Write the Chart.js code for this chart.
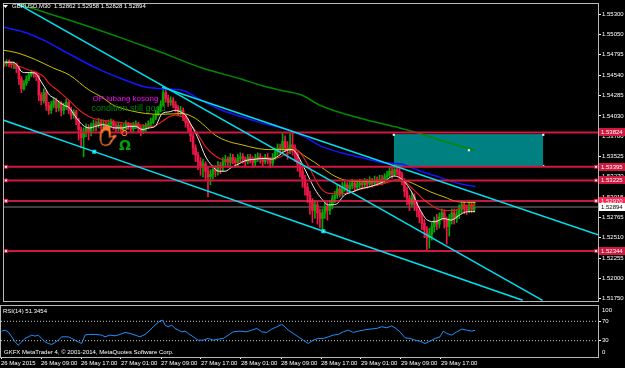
<!DOCTYPE html>
<html>
<head>
<meta charset="utf-8">
<script src="https://cdn.jsdelivr.net/npm/chart.js"></script>
<style>
  html, body { margin: 0; padding: 0; background: #000; }
  #wrap { position: relative; width: 625px; height: 368px; background: #000; overflow: hidden; }
  canvas { position: absolute; left: 0; }
  #main { top: 0; }
  #rsi { top: 305px; }
</style>
</head>
<body>
<div id="wrap">
  <canvas id="main" width="625" height="305"></canvas>
  <canvas id="rsi" width="625" height="63"></canvas>
</div>
<script>
// GBPUSD M30, 26 - 29 May 2015 (x = bar number)
const timeLabels = ['26 May 2015', '26 May 09:00', '26 May 17:00', '27 May 01:00', '27 May 09:00', '27 May 17:00',
    '28 May 01:00', '28 May 09:00', '28 May 17:00', '29 May 01:00', '29 May 09:00', '29 May 17:00'];
const timeTickBars = [0, 16, 32, 48, 64, 80, 96, 112, 128, 144, 160, 176];
const priceTicks = [1.55300, 1.55050, 1.54795, 1.54540, 1.54285, 1.54030, 1.53780, 1.53525,
    1.53270, 1.53015, 1.52765, 1.52510, 1.52255, 1.52000, 1.51750];

const opens = [1.5469,1.5468,1.5470,1.5469,1.5467,1.5468,1.5462,1.5449,1.5437,1.5444,
1.5449,1.5454,1.5457,1.5456,1.5452,1.5429,1.5422,1.5432,1.5416,1.5410,
1.5417,1.5422,1.5413,1.5419,1.5410,1.5415,1.5420,1.5410,1.5404,1.5408,
1.5398,1.5386,1.5376,1.5383,1.5388,1.5383,1.5391,1.5393,1.5391,1.5395,
1.5392,1.5393,1.5388,1.5393,1.5395,1.5391,1.5388,1.5391,1.5386,1.5389,
1.5393,1.5391,1.5387,1.5391,1.5393,1.5388,1.5383,1.5388,1.5391,1.5393,
1.5395,1.5400,1.5405,1.5410,1.5417,1.5432,1.5425,1.5420,1.5422,1.5417,
1.5413,1.5408,1.5410,1.5403,1.5395,1.5388,1.5378,1.5363,1.5354,1.5346,
1.5339,1.5343,1.5334,1.5327,1.5330,1.5336,1.5334,1.5341,1.5339,1.5346,
1.5349,1.5345,1.5351,1.5348,1.5345,1.5350,1.5352,1.5349,1.5346,1.5351,
1.5349,1.5345,1.5350,1.5352,1.5349,1.5346,1.5351,1.5348,1.5344,1.5351,
1.5358,1.5363,1.5361,1.5371,1.5363,1.5361,1.5367,1.5363,1.5355,1.5343,
1.5334,1.5324,1.5314,1.5304,1.5295,1.5285,1.5292,1.5282,1.5275,1.5282,
1.5290,1.5285,1.5292,1.5300,1.5304,1.5312,1.5307,1.5314,1.5317,1.5312,
1.5316,1.5319,1.5314,1.5317,1.5319,1.5317,1.5320,1.5318,1.5322,1.5319,
1.5323,1.5320,1.5324,1.5322,1.5327,1.5329,1.5334,1.5330,1.5336,1.5334,
1.5329,1.5322,1.5309,1.5300,1.5293,1.5302,1.5292,1.5285,1.5277,1.5269,
1.5261,1.5251,1.5256,1.5265,1.5273,1.5268,1.5277,1.5282,1.5273,1.5265,
1.5275,1.5282,1.5275,1.5280,1.5287,1.5292,1.5287,1.5285,1.5292,1.52862];

const highs = [1.5471,1.5473,1.5473,1.5470,1.5470,1.5469,1.5464,1.5452,1.5447,1.5453,
1.5457,1.5460,1.5459,1.5458,1.5454,1.5432,1.5437,1.5435,1.5420,1.5421,
1.5426,1.5425,1.5422,1.5421,1.5419,1.5424,1.5422,1.5414,1.5411,1.5410,
1.5400,1.5389,1.5388,1.5393,1.5392,1.5394,1.5398,1.5397,1.5400,1.5398,
1.5398,1.5397,1.5398,1.5399,1.5398,1.5394,1.5394,1.5393,1.5393,1.5397,
1.5395,1.5394,1.5395,1.5397,1.5395,1.5391,1.5392,1.5394,1.5397,1.5400,
1.5404,1.5410,1.5415,1.5422,1.5438,1.5435,1.5429,1.5427,1.5426,1.5421,
1.5416,1.5415,1.5413,1.5405,1.5399,1.5391,1.5381,1.5367,1.5358,1.5351,
1.5349,1.5346,1.5339,1.5336,1.5341,1.5341,1.5346,1.5345,1.5351,1.5354,
1.5352,1.5356,1.5355,1.5351,1.5355,1.5357,1.5356,1.5352,1.5355,1.5355,
1.5352,1.5355,1.5357,1.5356,1.5352,1.5355,1.5356,1.5351,1.5356,1.5363,
1.5368,1.5368,1.5382,1.5378,1.5371,1.5381,1.5382,1.5367,1.5358,1.5348,
1.5339,1.5329,1.5319,1.5309,1.5300,1.5297,1.5296,1.5287,1.5287,1.5295,
1.5295,1.5297,1.5304,1.5309,1.5317,1.5317,1.5320,1.5322,1.5320,1.5320,
1.5324,1.5323,1.5322,1.5324,1.5323,1.5325,1.5324,1.5327,1.5325,1.5328,
1.5327,1.5329,1.5329,1.5331,1.5334,1.5339,1.5339,1.5341,1.5341,1.5338,
1.5333,1.5325,1.5314,1.5304,1.5307,1.5306,1.5297,1.5290,1.5282,1.5274,
1.5265,1.5263,1.5270,1.5277,1.5280,1.5282,1.5287,1.5286,1.5277,1.5280,
1.5287,1.5287,1.5285,1.5292,1.5297,1.5296,1.5292,1.5296,1.5295,1.52958];

const lows = [1.5464,1.5465,1.5464,1.5463,1.5462,1.5457,1.5442,1.5432,1.5435,1.5441,
1.5447,1.5452,1.5451,1.5447,1.5422,1.5417,1.5419,1.5410,1.5405,1.5406,
1.5413,1.5408,1.5409,1.5403,1.5405,1.5411,1.5406,1.5399,1.5400,1.5392,
1.5373,1.5363,1.5352,1.5377,1.5373,1.5378,1.5384,1.5384,1.5388,1.5387,
1.5387,1.5383,1.5386,1.5389,1.5386,1.5383,1.5384,1.5381,1.5382,1.5387,
1.5386,1.5382,1.5383,1.5387,1.5383,1.5378,1.5381,1.5384,1.5387,1.5389,
1.5393,1.5398,1.5403,1.5408,1.5415,1.5420,1.5415,1.5416,1.5413,1.5408,
1.5403,1.5404,1.5397,1.5389,1.5382,1.5371,1.5355,1.5346,1.5336,1.5329,
1.5327,1.5322,1.5302,1.5317,1.5324,1.5327,1.5329,1.5331,1.5334,1.5341,
1.5339,1.5341,1.5343,1.5339,1.5341,1.5346,1.5344,1.5340,1.5343,1.5344,
1.5339,1.5341,1.5346,1.5344,1.5340,1.5343,1.5343,1.5338,1.5340,1.5348,
1.5354,1.5355,1.5357,1.5358,1.5349,1.5356,1.5354,1.5346,1.5334,1.5327,
1.5314,1.5304,1.5295,1.5280,1.5270,1.5275,1.5268,1.5263,1.5259,1.5275,
1.5273,1.5280,1.5287,1.5295,1.5300,1.5302,1.5303,1.5309,1.5307,1.5308,
1.5312,1.5309,1.5311,1.5313,1.5312,1.5314,1.5313,1.5316,1.5314,1.5317,
1.5316,1.5318,1.5317,1.5319,1.5323,1.5327,1.5325,1.5328,1.5329,1.5324,
1.5317,1.5302,1.5292,1.5285,1.5290,1.5285,1.5277,1.5270,1.5261,1.5251,
1.5236,1.5238,1.5248,1.5258,1.5261,1.5263,1.5273,1.5263,1.5243,1.5253,
1.5268,1.5268,1.5270,1.5275,1.5282,1.5281,1.5280,1.5282,1.5282,1.52828];

const closes = [1.5468,1.5470,1.5469,1.5467,1.5468,1.5462,1.5449,1.5437,1.5444,1.5449,
1.5454,1.5457,1.5456,1.5452,1.5429,1.5422,1.5432,1.5416,1.5410,1.5417,
1.5422,1.5413,1.5419,1.5410,1.5415,1.5420,1.5410,1.5404,1.5408,1.5398,
1.5386,1.5376,1.5383,1.5388,1.5383,1.5391,1.5393,1.5391,1.5395,1.5392,
1.5393,1.5388,1.5393,1.5395,1.5391,1.5388,1.5391,1.5386,1.5389,1.5393,
1.5391,1.5387,1.5391,1.5393,1.5388,1.5383,1.5388,1.5391,1.5393,1.5395,
1.5400,1.5405,1.5410,1.5417,1.5432,1.5425,1.5420,1.5422,1.5417,1.5413,
1.5408,1.5410,1.5403,1.5395,1.5388,1.5378,1.5363,1.5354,1.5346,1.5339,
1.5343,1.5334,1.5327,1.5330,1.5336,1.5334,1.5341,1.5339,1.5346,1.5349,
1.5345,1.5351,1.5348,1.5345,1.5350,1.5352,1.5349,1.5346,1.5351,1.5349,
1.5345,1.5350,1.5352,1.5349,1.5346,1.5351,1.5348,1.5344,1.5351,1.5358,
1.5363,1.5361,1.5371,1.5363,1.5361,1.5367,1.5363,1.5355,1.5343,1.5334,
1.5324,1.5314,1.5304,1.5295,1.5285,1.5292,1.5282,1.5275,1.5282,1.5290,
1.5285,1.5292,1.5300,1.5304,1.5312,1.5307,1.5314,1.5317,1.5312,1.5316,
1.5319,1.5314,1.5317,1.5319,1.5317,1.5320,1.5318,1.5322,1.5319,1.5323,
1.5320,1.5324,1.5322,1.5327,1.5329,1.5334,1.5330,1.5336,1.5334,1.5329,
1.5322,1.5309,1.5300,1.5293,1.5302,1.5292,1.5285,1.5277,1.5269,1.5261,
1.5251,1.5256,1.5265,1.5273,1.5268,1.5277,1.5282,1.5273,1.5265,1.5275,
1.5282,1.5275,1.5280,1.5287,1.5292,1.5287,1.5285,1.5292,1.52862,1.52894];

// moving averages
const whiteBars = [0.3,3.6,5.6,6.8,8.3,10.3,12.8,14.3,16.3,18.3,20.3,22.3,24.3,26.3,28.3,30.3,32.3,34.3,36.9,39.6,
    42.3,44.8,47.6,50.3,52.8,55.6,58.3,60.8,63.6,66.3,68.9,70.9,72.9,75.6,78.3,80.9,83.6,86.3,88.9,91.6,
    94.3,96.9,100.9,104.9,107.6,110.3,112.9,115.6,116.9,119.6,122.3,124.9,127.6,130.4,133.6,136.8,140,143.2,146.3,149.5,
    152.7,156.7,159.1,160.7,163.9,167.1,170.2,173.4,176.6,179.8,183,185.4,189.4];
const whiteMa = [1.5470,1.5470,1.5465,1.5459,1.5457,1.5457,1.5456,1.5449,1.5439,1.5429,1.5425,1.5420,1.5416,1.5413,1.5404,1.5396,1.5390,1.5388,1.5390,1.5392,
    1.5390,1.5388,1.5388,1.5390,1.5390,1.5386,1.5388,1.5390,1.5406,1.5408,1.5410,1.5408,1.5404,1.5390,1.5373,1.5353,1.5341,1.5334,1.5334,1.5339,
    1.5343,1.5347,1.5349,1.5350,1.5349,1.5353,1.5359,1.5361,1.5359,1.5345,1.5328,1.5312,1.5300,1.5292,1.5293,1.5304,1.5308,1.5312,1.5314,1.5317,
    1.5321,1.5328,1.5326,1.5322,1.5308,1.5287,1.5273,1.5271,1.5275,1.5273,1.5279,1.5283,1.5284];
const redBars = [1.6,7.6,12.9,15.6,18.3,22.3,26.3,30.3,34.3,38.3,43.6,48.9,54.3,59.6,63.6,66.3,68.9,71.6,75.6,78.3,
    80.9,84.9,88.9,92.9,96.9,100.9,106.3,110.3,114.3,116.9,119.6,122.3,127.6,131.6,135.6,139.6,143.6,148.9,154.3,158.3,
    160.9,163.6,166.3,168.9,171.6,174.3,178.3,180.9,184.9,189.6];
const redMa = [1.5470,1.5463,1.5457,1.5453,1.5443,1.5433,1.5422,1.5410,1.5402,1.5398,1.5396,1.5394,1.5392,1.5390,1.5396,1.5402,1.5404,1.5402,1.5390,1.5378,
    1.5365,1.5353,1.5347,1.5345,1.5347,1.5349,1.5350,1.5351,1.5357,1.5361,1.5355,1.5341,1.5312,1.5306,1.5306,1.5308,1.5312,1.5316,1.5320,1.5324,
    1.5322,1.5314,1.5306,1.5298,1.5292,1.5287,1.5285,1.5285,1.5290,1.5292];
const yellowBars = [-0.4,4.9,12.8,19.6,26.3,34.3,39.6,43.6,50.3,56.9,63.6,71.6,76.9,80.9,84.9,90.3,95.6,100.9,106.3,111.6,
    116.9,120.9,124.9,127.6,132.9,138.3,143.6,154.3,160.9,166.3,171.6,176.9,182.3,189.6];
const yellowMa = [1.5485,1.5482,1.5473,1.5463,1.5454,1.5435,1.5426,1.5417,1.5410,1.5406,1.5405,1.5406,1.5400,1.5390,1.5379,1.5371,1.5367,1.5363,1.5361,1.5361,
    1.5361,1.5353,1.5345,1.5339,1.5328,1.5322,1.5321,1.5322,1.5322,1.5316,1.5308,1.5302,1.5296,1.5295];
const blueBars = [-0.4,7.6,16.9,26.3,36.9,47.6,56.9,63.6,71.6,79.6,87.6,95.6,103.6,111.6,119.6,127.6,135.6,143.6,151.6,159.6,167.6,175.6,183.6,189.6];
const blueMa = [1.5514,1.5508,1.5496,1.5480,1.5463,1.5449,1.5439,1.5437,1.5435,1.5422,1.5410,1.5402,1.5394,1.5388,1.5379,1.5365,1.5357,1.5351,1.5345,1.5343,1.5334,1.5326,1.5318,1.5315];
const greenBars = [-0.4,15.6,31.6,47.4,63.4,79.4,95.3,103.6,111.2,119.6,127.2,143.2,159.1,167.1,175,189.4];
const greenMa = [1.5548,1.5533,1.5517,1.5500,1.5482,1.5463,1.5449,1.5441,1.5435,1.5429,1.5416,1.5400,1.5388,1.5381,1.5373,1.5360];

// objects drawn on the chart
const steepBars = [-2.6, 216.5];
const steepPrices = [1.5557, 1.5173];
const upperBars = [63.6, 238.8];
const upperPrices = [1.54387, 1.52547];
const lowerBars = [-0.4, 36.3, 128.4, 208.5];
const lowerPrices = [1.53979, 1.53584, 1.52592, 1.51730];
const levelPrices = [1.53824, 1.53395, 1.53225, 1.52970, 1.52344];
const levelSelected = [false, true, true, true, true];
const bidPrice = 1.52894;
const zoneBars = [156.7, 216.8];
const zoneTop = 1.53795;
const zoneBottom = 1.53406;

// RSI(14)
const rsiBars = [0.3,1.6,2.9,4.3,5.6,6.9,8.3,9.6,10.9,12.3,13.6,14.9,16.3,17.6,18.9,20.3,21.6,22.9,24.3,25.6,
    26.9,28.3,29.6,30.9,32.3,33.6,34.9,37.6,40.3,41.6,43.6,45.6,47.6,49.6,51.6,53.6,55.6,57.6,59.6,61.6,
    63.6,64.7,65.6,66.9,68.3,69.6,70.9,72.3,73.6,74.9,76.9,78.9,80.9,82.9,84.9,86.9,88.9,90.9,92.9,95.6,
    98.3,100.3,102.3,104.3,106.3,108.3,110.3,112.3,113.6,114.9,116.9,118.9,120.9,122.9,124.9,126.9,128.9,130.9,132.9,134.9,
    136.9,138.9,140.9,142.9,144.9,147.6,150.3,152.3,154.3,156.3,157.6,159.6,161.6,163.6,165.6,167.6,169.6,171.6,173.6,175.6,
    176.9,178.3,180.3,182.3,184.3,186.3,188.3,189.6];
const rsiValues = [49.7,51.8,48.3,37.9,27.6,20.7,27.6,34.6,37.9,41.5,39.4,41.5,34.6,27.6,24.2,22.2,26.3,31.1,37.9,37.9,
    37.9,34.6,31.1,27.6,24.2,41.5,42.9,42.9,41.5,37.9,41.5,40.0,42.9,47.0,45.0,41.5,37.9,42.9,51.8,62.2,
    70.5,72.5,62.2,58.7,62.2,55.3,51.8,48.3,49.7,45.0,37.9,31.1,31.1,34.6,31.1,33.2,34.6,41.5,48.3,49.7,
    48.3,51.8,55.3,48.3,47.0,53.9,58.7,63.6,58.7,51.8,45.0,37.9,31.1,24.2,31.1,34.6,34.6,37.9,41.5,42.9,
    48.3,51.8,47.0,49.7,51.8,53.9,55.3,58.7,56.6,60.7,56.6,48.3,35.9,34.6,31.1,29.0,24.2,29.0,34.6,37.9,
    49.7,45.0,41.5,48.3,53.9,51.8,49.7,51.3];
const rsiLevels = [70, 30];

const X_MIN = 0, X_MAX = 238.8;
const FONT = '"Liberation Sans", Arial, sans-serif';
Chart.defaults.font.family = FONT;
Chart.defaults.font.size = 6;
Chart.defaults.color = '#ffffff';

const bull = '#00a800', bear = '#f01848';
const levelColors = ['#d0183f', '#d0183f', '#d0183f', '#ff2452', '#d0183f'];
const candleColors = closes.map((c, i) => c >= opens[i] ? bull : bear);

function pts(xs, ys) {
    return xs.map((x, i) => ({x: x, y: ys[i]}));
}

function line(data, color, width, order, extra) {
    return Object.assign({
        type: 'line', data: data, borderColor: color, borderWidth: width,
        pointRadius: 0, order: order, clip: 0
    }, extra || {});
}

function noPadding(scale) {
    scale.paddingLeft = 0;
    scale.paddingRight = 0;
    scale.paddingTop = 0;
    scale.paddingBottom = 0;
}

// glyph painted as a solid colour ring (outline look of the terminal arrows)
function drawGlyph(ctx, glyph, size, color, px, py) {
    const n = size + 8;
    const c = document.createElement('canvas');
    c.width = n; c.height = n;
    const g = c.getContext('2d');
    g.textBaseline = 'top';
    g.font = size + 'px "DejaVu Sans"';
    g.fillText(glyph, 4, 4);
    g.globalCompositeOperation = 'source-in';
    g.fillStyle = color;
    g.fillRect(0, 0, n, n);
    ctx.drawImage(c, px - 4, py - 4);
}

const datasets = [];
// support/resistance zone
datasets.push(line(pts(zoneBars, [zoneTop, zoneTop]), '#0a8c8c', 1, 20,
    {fill: '+1', backgroundColor: '#008080', pointRadius: 1.5, pointStyle: 'rect',
     pointBackgroundColor: '#ffffff', pointBorderWidth: 0}));
datasets.push(line(pts(zoneBars, [zoneBottom, zoneBottom]), '#0a8c8c', 1, 20,
    {pointRadius: 1.5, pointStyle: 'rect', pointBackgroundColor: '#ffffff', pointBorderWidth: 0}));
// bid line
datasets.push(line(pts([X_MIN, X_MAX], [bidPrice, bidPrice]), '#555555', 1.5, 15));
// candles
datasets.push({
    type: 'bar', data: highs.map((h, i) => ({x: i, y: [lows[i], h]})),
    backgroundColor: candleColors, barThickness: 1, grouped: false, order: 12
});
datasets.push({
    type: 'bar', data: opens.map((o, i) => ({x: i, y: [o, closes[i]]})),
    backgroundColor: candleColors, barThickness: 2, minBarLength: 1, grouped: false, order: 11
});
// moving averages
const smooth = {cubicInterpolationMode: 'monotone'};
datasets.push(line(pts(greenBars, greenMa), '#008a00', 1.5, 8, smooth));
datasets.push(line(pts(blueBars, blueMa), '#1414ff', 1.5, 7, smooth));
datasets.push(line(pts(yellowBars, yellowMa), '#cfc000', 1, 6, smooth));
datasets.push(line(pts(redBars, redMa), '#e01e1e', 1.2, 5, smooth));
datasets.push(line(pts(whiteBars, whiteMa), '#eeeeee', 1, 4, smooth));
// horizontal levels
levelPrices.forEach((p, i) => {
    datasets.push(line(pts([X_MIN, 0.8, 238, X_MAX], [p, p, p, p]), levelColors[i], i === 3 ? 1.5 : 2, 3, {
        pointRadius: levelSelected[i] ? [0, 2, 2, 0] : 0, pointStyle: 'rect',
        pointBackgroundColor: '#ffffff', pointBorderColor: levelColors[i], pointBorderWidth: 1
    }));
});
// trend lines
datasets.push(line(pts(steepBars, steepPrices), '#00e0f0', 1.5, 2));
datasets.push(line(pts(upperBars, upperPrices), '#00e0f0', 1.5, 2));
datasets.push(line(pts(lowerBars, lowerPrices), '#00e0f0', 1.5, 2, {
    pointRadius: [0, 1.8, 1.8, 0], pointStyle: 'rect', pointBackgroundColor: '#ffffff', pointBorderColor: '#00e0f0'
}));
// end marker on the slow average
datasets.push(line([{x: 186.9, y: 1.53602}], '#ffffff', 0, 1, {
    pointRadius: 1.5, pointStyle: 'rect', pointBackgroundColor: '#ffffff', pointBorderWidth: 0, showLine: false
}));

const mainOverlay = {
    id: 'mainOverlay',
    afterDraw(chart) {
        const {ctx, chartArea: a, scales: {x, y}} = chart;
        ctx.save();
        ctx.strokeStyle = '#b8b8b8';
        ctx.lineWidth = 1;
        ctx.strokeRect(a.left - 0.5, a.top - 0.5, a.right - a.left + 1, a.bottom - a.top + 1);

        ctx.font = '6px ' + FONT;
        ctx.textBaseline = 'middle';
        levelPrices.forEach((p, i) => {
            const py = Math.round(y.getPixelForValue(p));
            ctx.fillStyle = levelColors[i];
            ctx.fillRect(a.right + 1, py - 4, 26, 8);
            ctx.fillStyle = '#ffffff';
            ctx.fillText(p.toFixed(5), a.right + 3, py + 0.5);
        });
        const by = Math.round(y.getPixelForValue(bidPrice));
        ctx.fillStyle = '#ffffff';
        ctx.fillRect(a.right + 1, by - 4, 26, 8);
        ctx.fillStyle = '#000000';
        ctx.fillText(bidPrice.toFixed(5), a.right + 3, by + 0.5);

        // symbol header
        ctx.fillStyle = '#ffffff';
        ctx.beginPath();
        ctx.moveTo(3, 5); ctx.lineTo(8, 5); ctx.lineTo(5.5, 8); ctx.closePath();
        ctx.fill();
        ctx.fillText('GBPUSD,M30  1.52862 1.52958 1.52828 1.52894', 12, 6.5);

        // text notes
        ctx.font = '8px ' + FONT;
        ctx.fillStyle = '#ff00ff';
        ctx.fillText('OP lubang kosong', x.getPixelForValue(35.6), y.getPixelForValue(1.5424));
        ctx.font = '9px ' + FONT;
        ctx.fillStyle = '#008000';
        ctx.fillText('condition still good', x.getPixelForValue(35.2), y.getPixelForValue(1.5412));

        // arrow objects
        const hx = x.getPixelForValue(36.4), hy = y.getPixelForValue(1.5389);
        drawGlyph(ctx, '\u270B', 20, '#ff7a30', hx, hy);
        drawGlyph(ctx, '\u270B', 14, '#000000', hx + 3, hy + 4);
        ctx.textBaseline = 'top';
        ctx.font = '12px "DejaVu Sans"';
        ctx.fillStyle = '#ff7a30';
        ctx.fillText('\u2649', x.getPixelForValue(46.2), y.getPixelForValue(1.5389));
        ctx.font = 'bold 14px "DejaVu Sans"';
        ctx.fillStyle = '#00a000';
        ctx.fillText('\u03A9', x.getPixelForValue(46.2), y.getPixelForValue(1.5374));
        ctx.restore();
    }
};

new Chart(document.getElementById('main'), {
    type: 'bar',
    data: {datasets: datasets},
    options: {
        responsive: false,
        animation: false,
        events: [],
        layout: {padding: {left: 1, top: 2, right: 0, bottom: 1}},
        plugins: {legend: {display: false}, tooltip: {enabled: false}},
        scales: {
            x: {
                type: 'linear', min: X_MIN, max: X_MAX, offset: false, display: false,
                afterFit: noPadding
            },
            y: {
                position: 'right', min: 1.51721, max: 1.55426,
                afterBuildTicks: (scale) => { scale.ticks = priceTicks.map(v => ({value: v})); },
                afterFit: (scale) => { scale.width = 27; noPadding(scale); },
                ticks: {callback: (v) => v.toFixed(5), padding: 1, color: '#ffffff'},
                grid: {drawOnChartArea: false, tickLength: 3, color: '#ffffff'},
                border: {display: true, color: '#ffffff'}
            }
        }
    },
    plugins: [mainOverlay]
});

const rsiOverlay = {
    id: 'rsiOverlay',
    afterDraw(chart) {
        const {ctx, chartArea: a} = chart;
        ctx.save();
        ctx.strokeStyle = '#b8b8b8';
        ctx.lineWidth = 1;
        ctx.strokeRect(a.left - 0.5, a.top - 0.5, a.right - a.left + 1, a.bottom - a.top + 1);
        ctx.font = '6px ' + FONT;
        ctx.fillStyle = '#ffffff';
        ctx.textBaseline = 'middle';
        ctx.fillText('RSI(14) 51.3454', 3, 6);
        ctx.fillText('GKFX MetaTrader 4, \u00A9 2001-2014, MetaQuotes Software Corp.', 4, 47.3);
        // scale limits, drawn inside the window as the terminal does
        ctx.fillText('100', a.right + 4, 5);
        ctx.fillText('0', a.right + 4, 47);
        ctx.restore();
    }
};

new Chart(document.getElementById('rsi'), {
    type: 'line',
    data: {
        datasets: [
            {data: pts(rsiBars, rsiValues), borderColor: '#1e90ff', borderWidth: 1, pointRadius: 0, order: 1},
            ...rsiLevels.map(v => ({
                data: pts([X_MIN, X_MAX], [v, v]), borderColor: '#c8c8c8', borderWidth: 1,
                borderDash: [1, 2], pointRadius: 0, order: 2
            }))
        ]
    },
    options: {
        responsive: false,
        animation: false,
        events: [],
        layout: {padding: {left: 1, top: 1, right: 0, bottom: 0}},
        plugins: {legend: {display: false}, tooltip: {enabled: false}},
        scales: {
            x: {
                type: 'linear', min: X_MIN, max: X_MAX,
                afterBuildTicks: (scale) => { scale.ticks = timeTickBars.map(v => ({value: v})); },
                afterFit: (scale) => { scale.height = 11; noPadding(scale); },
                ticks: {
                    callback: (v, i) => timeLabels[i], align: 'start', padding: 1,
                    maxRotation: 0, autoSkip: false, color: '#ffffff'
                },
                grid: {drawOnChartArea: false, tickLength: 2, color: '#ffffff'},
                border: {display: true, color: '#ffffff'}
            },
            y: {
                position: 'right', min: -3.7, max: 101.6,
                afterBuildTicks: (scale) => { scale.ticks = rsiLevels.map(v => ({value: v})); },
                afterFit: (scale) => { scale.width = 27; noPadding(scale); },
                ticks: {padding: 1, color: '#ffffff'},
                grid: {drawOnChartArea: false, tickLength: 3, color: '#ffffff'},
                border: {display: true, color: '#ffffff'}
            }
        }
    },
    plugins: [rsiOverlay]
});
</script>
</body>
</html>
